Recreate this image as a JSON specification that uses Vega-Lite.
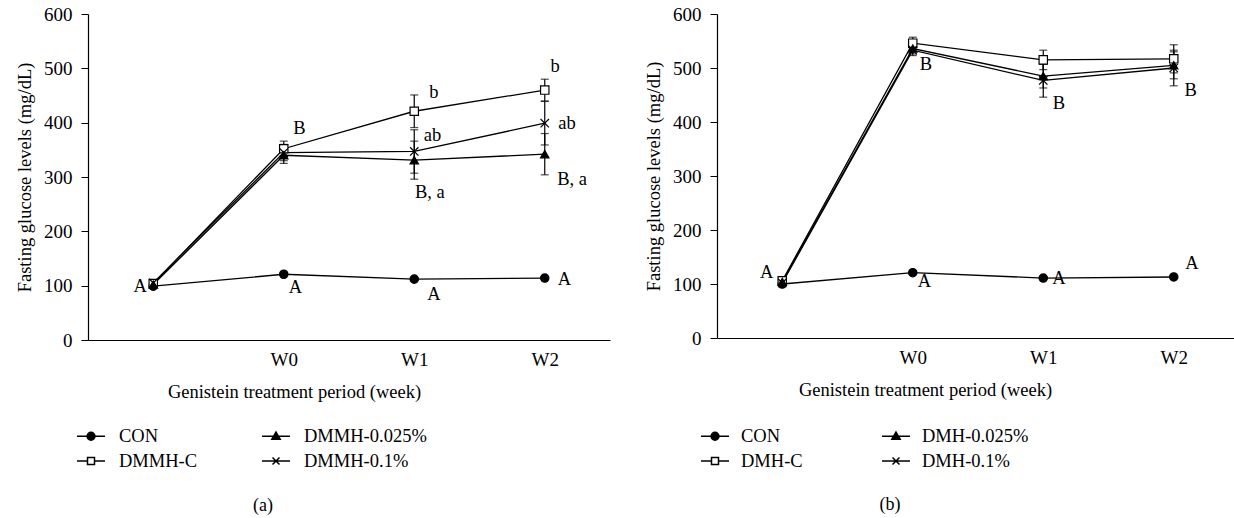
{
  "$schema": "https://vega.github.io/schema/vega-lite/v6.json",
  "padding": {"left": 15, "top": 5, "right": 0, "bottom": 0},
  "background": "white",
  "config": {
    "view": {"stroke": null},
    "font": "Liberation Serif",
    "axis": {"labelFont": "Liberation Serif", "titleFont": "Liberation Serif", "labelFontSize": 19, "titleFontSize": 18.5, "titleFontWeight": "normal", "labelColor": "black", "titleColor": "black", "domainColor": "black", "tickColor": "black", "grid": false, "domainWidth": 1.2},
    "legend": {"labelFont": "Liberation Serif", "labelFontSize": 18.5, "labelColor": "black"},
    "title": {"font": "Liberation Serif", "fontSize": 18, "fontWeight": "normal", "color": "black"}
  },
  "datasets": {
    "a": [
      {"group": "CON", "week": 0, "glucose": 99, "lo": 97, "hi": 101},
      {"group": "CON", "week": 1, "glucose": 121, "lo": 119, "hi": 123},
      {"group": "CON", "week": 2, "glucose": 112, "lo": 110, "hi": 114},
      {"group": "CON", "week": 3, "glucose": 114, "lo": 112, "hi": 116},
      {"group": "DMMH-C", "week": 0, "glucose": 104, "lo": 98, "hi": 110},
      {"group": "DMMH-C", "week": 1, "glucose": 352, "lo": 338, "hi": 366},
      {"group": "DMMH-C", "week": 2, "glucose": 421, "lo": 391, "hi": 451},
      {"group": "DMMH-C", "week": 3, "glucose": 460, "lo": 440, "hi": 480},
      {"group": "DMMH-0.025%", "week": 0, "glucose": 102, "lo": 96, "hi": 108},
      {"group": "DMMH-0.025%", "week": 1, "glucose": 340, "lo": 325, "hi": 355},
      {"group": "DMMH-0.025%", "week": 2, "glucose": 331, "lo": 296, "hi": 366},
      {"group": "DMMH-0.025%", "week": 3, "glucose": 342, "lo": 304, "hi": 380},
      {"group": "DMMH-0.1%", "week": 0, "glucose": 105, "lo": 99, "hi": 111},
      {"group": "DMMH-0.1%", "week": 1, "glucose": 345, "lo": 330, "hi": 360},
      {"group": "DMMH-0.1%", "week": 2, "glucose": 347, "lo": 307, "hi": 387},
      {"group": "DMMH-0.1%", "week": 3, "glucose": 399, "lo": 359, "hi": 439}
    ],
    "b": [
      {"group": "CON", "week": 0, "glucose": 100, "lo": 98, "hi": 102},
      {"group": "CON", "week": 1, "glucose": 121, "lo": 119, "hi": 123},
      {"group": "CON", "week": 2, "glucose": 111, "lo": 109, "hi": 113},
      {"group": "CON", "week": 3, "glucose": 113, "lo": 111, "hi": 115},
      {"group": "DMH-C", "week": 0, "glucose": 106, "lo": 100, "hi": 112},
      {"group": "DMH-C", "week": 1, "glucose": 546, "lo": 536, "hi": 557},
      {"group": "DMH-C", "week": 2, "glucose": 515, "lo": 497, "hi": 533},
      {"group": "DMH-C", "week": 3, "glucose": 517, "lo": 491, "hi": 543},
      {"group": "DMH-0.025%", "week": 0, "glucose": 104, "lo": 98, "hi": 110},
      {"group": "DMH-0.025%", "week": 1, "glucose": 536, "lo": 526, "hi": 546},
      {"group": "DMH-0.025%", "week": 2, "glucose": 485, "lo": 463, "hi": 507},
      {"group": "DMH-0.025%", "week": 3, "glucose": 505, "lo": 480, "hi": 530},
      {"group": "DMH-0.1%", "week": 0, "glucose": 102, "lo": 96, "hi": 108},
      {"group": "DMH-0.1%", "week": 1, "glucose": 533, "lo": 523, "hi": 543},
      {"group": "DMH-0.1%", "week": 2, "glucose": 477, "lo": 446, "hi": 508},
      {"group": "DMH-0.1%", "week": 3, "glucose": 500, "lo": 467, "hi": 533}
    ],
    "alab": [
      {"label": "A", "week": -0.1, "glucose": 100},
      {"label": "A", "week": 1.09, "glucose": 97},
      {"label": "A", "week": 2.15, "glucose": 85},
      {"label": "A", "week": 3.15, "glucose": 112},
      {"label": "B", "week": 1.12, "glucose": 391},
      {"label": "b", "week": 2.15, "glucose": 457},
      {"label": "ab", "week": 2.14, "glucose": 378},
      {"label": "B, a", "week": 2.12, "glucose": 272},
      {"label": "b", "week": 3.08, "glucose": 505},
      {"label": "ab", "week": 3.17, "glucose": 400},
      {"label": "B, a", "week": 3.21, "glucose": 296}
    ],
    "blab": [
      {"label": "A", "week": -0.12, "glucose": 122},
      {"label": "A", "week": 1.09, "glucose": 105},
      {"label": "B", "week": 1.1, "glucose": 508},
      {"label": "A", "week": 2.12, "glucose": 111},
      {"label": "B", "week": 2.12, "glucose": 435},
      {"label": "A", "week": 3.14, "glucose": 138},
      {"label": "B", "week": 3.13, "glucose": 460}
    ]
  },
  "hconcat": [
    {
      "width": 522,
      "height": 326,
      "title": {"text": "(a)", "orient": "bottom", "anchor": "middle", "dx": -86, "offset": 26},
      "encoding": {
        "x": {"field": "week", "type": "quantitative", "scale": {"domain": [-0.5, 3.5], "nice": false, "zero": false},
          "axis": {"values": [1, 2, 3], "labelExpr": "'W' + (datum.value - 1)", "ticks": false, "labelPadding": 10, "title": "Genistein treatment period (week)", "titleX": 206, "titlePadding": 13}},
        "y": {"field": "glucose", "type": "quantitative", "scale": {"domain": [0, 600], "nice": false},
          "axis": {"values": [0, 100, 200, 300, 400, 500, 600], "tickSize": 7, "labelPadding": 9, "title": "Fasting glucose levels (mg/dL)", "titlePadding": 9}}
      },
      "layer": [
        {"data": {"name": "a"}, "mark": {"type": "line", "color": "black", "strokeWidth": 1.3}, "encoding": {"detail": {"field": "group"}}},
        {"data": {"name": "a"}, "mark": {"type": "rule", "color": "black", "strokeWidth": 1.2}, "encoding": {"y": {"field": "lo", "type": "quantitative"}, "y2": {"field": "hi"}}},
        {"data": {"name": "a"}, "mark": {"type": "tick", "orient": "horizontal", "color": "black", "size": 8, "thickness": 1.2}, "encoding": {"y": {"field": "lo", "type": "quantitative"}}},
        {"data": {"name": "a"}, "mark": {"type": "tick", "orient": "horizontal", "color": "black", "size": 8, "thickness": 1.2}, "encoding": {"y": {"field": "hi", "type": "quantitative"}}},
        {"data": {"name": "a"}, "mark": {"type": "point", "stroke": "black", "strokeWidth": 1.2, "size": 70, "opacity": 1},
          "encoding": {
            "shape": {"field": "group", "type": "nominal", "scale": {"domain": ["CON", "DMMH-C", "DMMH-0.025%", "DMMH-0.1%"], "range": ["circle", "square", "triangle-up", "M-1,-1L1,1M-1,1L1,-1"]}, "legend": null},
            "fill": {"field": "group", "type": "nominal", "scale": {"domain": ["CON", "DMMH-C", "DMMH-0.025%", "DMMH-0.1%"], "range": ["black", "white", "black", "white"]}, "legend": null}
          }},
        {"data": {"values": []}, "mark": {"type": "point", "stroke": "black", "strokeWidth": 1.2, "size": 784, "opacity": 1},
          "encoding": {
            "shape": {"field": "group", "type": "nominal", "scale": {"domain": ["CON", "DMMH-C", "DMMH-0.025%", "DMMH-0.1%"], "range": ["M-1,0H1M0.28,0A0.28,0.28 0 1,1 -0.28,0A0.28,0.28 0 1,1 0.28,0Z", "M-1,0H-0.25M0.25,0H1M-0.25,-0.25H0.25V0.25H-0.25Z", "M-1,0H1M0,-0.3L0.3,0.22L-0.3,0.22Z", "M-1,0H1M-0.25,-0.25L0.25,0.25M-0.25,0.25L0.25,-0.25"]},
              "legend": {"title": null, "orient": "none", "legendX": -12, "legendY": 407, "columns": 2, "columnPadding": 61, "rowPadding": 0, "symbolSize": 784, "labelOffset": 13, "encode": {"symbols": {"update": {"stroke": {"value": "black"}, "strokeWidth": {"value": 1.3}}}}}},
            "fill": {"field": "group", "type": "nominal", "scale": {"domain": ["CON", "DMMH-C", "DMMH-0.025%", "DMMH-0.1%"], "range": ["black", "white", "black", "white"]},
              "legend": {"title": null, "orient": "none", "legendX": -12, "legendY": 407, "columns": 2, "columnPadding": 61, "rowPadding": 0, "symbolSize": 784, "labelOffset": 13, "encode": {"symbols": {"update": {"stroke": {"value": "black"}, "strokeWidth": {"value": 1.3}}}}}}
          }},
        {"data": {"name": "alab"}, "mark": {"type": "text", "font": "Liberation Serif", "fontSize": 18.5, "color": "black", "align": "center", "baseline": "middle"}, "encoding": {"text": {"field": "label"}}}
      ],
      "resolve": {"scale": {"shape": "independent", "fill": "independent"}}
    },
    {
      "width": 522,
      "height": 324,
      "title": {"text": "(b)", "orient": "bottom", "anchor": "middle", "dx": -88, "offset": 25},
      "encoding": {
        "x": {"field": "week", "type": "quantitative", "scale": {"domain": [-0.5, 3.5], "nice": false, "zero": false},
          "axis": {"values": [1, 2, 3], "labelExpr": "'W' + (datum.value - 1)", "ticks": false, "labelPadding": 10, "title": "Genistein treatment period (week)", "titleX": 208, "titlePadding": 13}},
        "y": {"field": "glucose", "type": "quantitative", "scale": {"domain": [0, 600], "nice": false},
          "axis": {"values": [0, 100, 200, 300, 400, 500, 600], "tickSize": 7, "labelPadding": 9, "title": "Fasting glucose levels (mg/dL)", "titlePadding": 9}}
      },
      "layer": [
        {"data": {"name": "b"}, "mark": {"type": "line", "color": "black", "strokeWidth": 1.3}, "encoding": {"detail": {"field": "group"}}},
        {"data": {"name": "b"}, "mark": {"type": "rule", "color": "black", "strokeWidth": 1.2}, "encoding": {"y": {"field": "lo", "type": "quantitative"}, "y2": {"field": "hi"}}},
        {"data": {"name": "b"}, "mark": {"type": "tick", "orient": "horizontal", "color": "black", "size": 8, "thickness": 1.2}, "encoding": {"y": {"field": "lo", "type": "quantitative"}}},
        {"data": {"name": "b"}, "mark": {"type": "tick", "orient": "horizontal", "color": "black", "size": 8, "thickness": 1.2}, "encoding": {"y": {"field": "hi", "type": "quantitative"}}},
        {"data": {"name": "b"}, "mark": {"type": "point", "stroke": "black", "strokeWidth": 1.2, "size": 70, "opacity": 1},
          "encoding": {
            "shape": {"field": "group", "type": "nominal", "scale": {"domain": ["CON", "DMH-C", "DMH-0.025%", "DMH-0.1%"], "range": ["circle", "square", "triangle-up", "M-1,-1L1,1M-1,1L1,-1"]}, "legend": null},
            "fill": {"field": "group", "type": "nominal", "scale": {"domain": ["CON", "DMH-C", "DMH-0.025%", "DMH-0.1%"], "range": ["black", "white", "black", "white"]}, "legend": null}
          }},
        {"data": {"values": []}, "mark": {"type": "point", "stroke": "black", "strokeWidth": 1.2, "size": 784, "opacity": 1},
          "encoding": {
            "shape": {"field": "group", "type": "nominal", "scale": {"domain": ["CON", "DMH-C", "DMH-0.025%", "DMH-0.1%"], "range": ["M-1,0H1M0.28,0A0.28,0.28 0 1,1 -0.28,0A0.28,0.28 0 1,1 0.28,0Z", "M-1,0H-0.25M0.25,0H1M-0.25,-0.25H0.25V0.25H-0.25Z", "M-1,0H1M0,-0.3L0.3,0.22L-0.3,0.22Z", "M-1,0H1M-0.25,-0.25L0.25,0.25M-0.25,0.25L0.25,-0.25"]},
              "legend": {"title": null, "orient": "none", "legendX": -17, "legendY": 407, "columns": 2, "columnPadding": 76, "rowPadding": 0, "symbolSize": 784, "labelOffset": 11, "encode": {"symbols": {"update": {"stroke": {"value": "black"}, "strokeWidth": {"value": 1.3}}}}}},
            "fill": {"field": "group", "type": "nominal", "scale": {"domain": ["CON", "DMH-C", "DMH-0.025%", "DMH-0.1%"], "range": ["black", "white", "black", "white"]},
              "legend": {"title": null, "orient": "none", "legendX": -17, "legendY": 407, "columns": 2, "columnPadding": 76, "rowPadding": 0, "symbolSize": 784, "labelOffset": 11, "encode": {"symbols": {"update": {"stroke": {"value": "black"}, "strokeWidth": {"value": 1.3}}}}}}
          }},
        {"data": {"name": "blab"}, "mark": {"type": "text", "font": "Liberation Serif", "fontSize": 18.5, "color": "black", "align": "center", "baseline": "middle"}, "encoding": {"text": {"field": "label"}}}
      ],
      "resolve": {"scale": {"shape": "independent", "fill": "independent"}}
    }
  ],
  "spacing": 34,
  "resolve": {"scale": {"shape": "independent", "fill": "independent"}}
}
